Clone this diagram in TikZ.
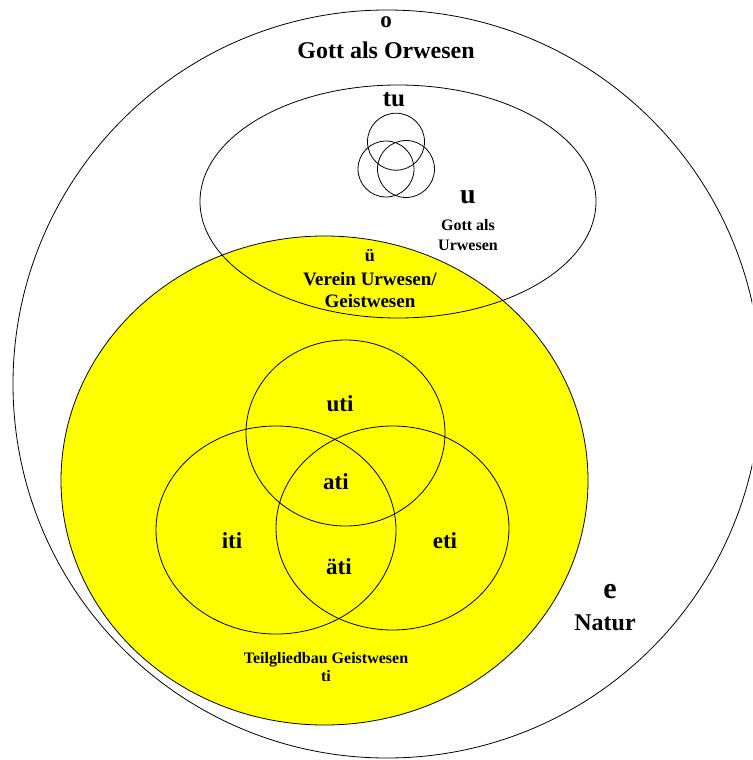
\documentclass[tikz,border=0pt]{standalone}
\usepackage{fontspec}
\setmainfont{Liberation Serif}
\definecolor{yel}{RGB}{255,255,0}
\begin{document}
\begin{tikzpicture}[x=1pt,y=-1pt,
  line/.style={draw=black,line width=0.8pt},
  lbl/.style={inner sep=0pt,font=\bfseries\fontsize{#1}{#1}\selectfont},
  mlbl/.style 2 args={inner sep=0pt,align=center,font=\bfseries\fontsize{#1}{#2}\selectfont}]
\useasboundingbox (0,0) rectangle (752,760);
\clip (0,0) rectangle (752,760);
\fill[white] (0,0) rectangle (752,760);
% outer circle (Orwesen)
\draw[line] (387,384) ellipse [x radius=374, y radius=374];
% yellow ellipse (Geistwesen)
\fill[yel] (324.5,480.5) ellipse [x radius=263.5, y radius=244.5];
\draw[line] (324.5,480.5) ellipse [x radius=263.5, y radius=244.5];
% top ellipse (Urwesen)
\draw[line] (398,201.5) ellipse [x radius=198, y radius=116.5];
% Venn circles
\draw[line] (345.5,433) ellipse [x radius=99.5, y radius=93];
\draw[line] (276,530) ellipse [x radius=120, y radius=104];
\draw[line] (392.5,528) ellipse [x radius=116.5, y radius=102];
% small circles
\draw[line] (396,141.7) circle [radius=28.5];
\draw[line] (386,169) circle [radius=28];
\draw[line] (406,169) circle [radius=28.5];
% labels
\node[lbl=23] (o) at (386,22) {o};
\node[lbl=24] (orw) at (386,50) {Gott als Orwesen};
\node[lbl=25] (tu) at (394,100) {tu};
\node[lbl=28] (u) at (468,197) {u};
\node[mlbl={16}{20}] (urw) at (468,235) {Gott als\\Urwesen};
\node[lbl=18] (ue) at (370,256) {ü};
\node[mlbl={19}{22}] (ver) at (370,290) {Verein Urwesen/\\Geistwesen};
\node[lbl=23] (uti) at (340,404) {uti};
\node[lbl=23] (ati) at (336,482) {ati};
\node[lbl=23] (iti) at (232,541) {iti};
\node[lbl=23] (eti) at (445,541) {eti};
\node[lbl=23] (aeti) at (339,567) {äti};
\node[lbl=30] (e) at (610,592) {e};
\node[lbl=24] (nat) at (605,623) {Natur};
\node[mlbl={16}{18}] (tgb) at (326,667) {Teilgliedbau Geistwesen\\ti};
\end{tikzpicture}
\end{document}
